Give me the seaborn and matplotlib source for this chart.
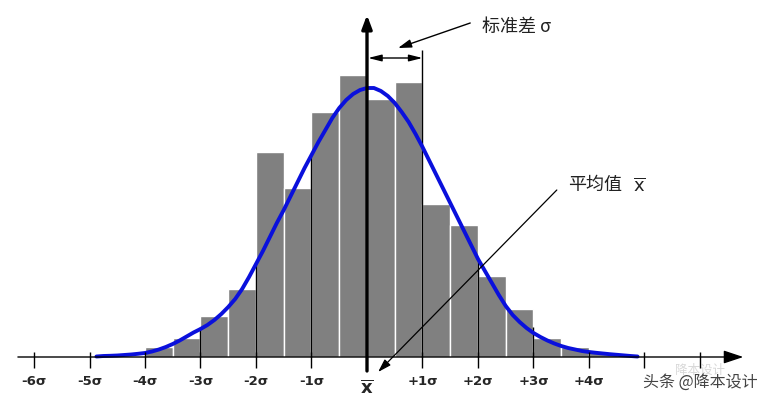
import numpy as np
import pandas as pd
import seaborn as sns
import matplotlib.pyplot as plt

# histogram bins (in sigma units) and bar heights
bin_edges = [-4.0, -3.5, -3.0, -2.5, -2.0, -1.5, -1.0, -0.5, 0.0, 0.5,
             1.0, 1.5, 2.0, 2.5, 3.0, 3.5, 4.0, 4.5]
bar_heights = [10, 19, 41, 68, 205, 169, 245, 282, 258, 275,
               153, 132, 81, 48, 19, 10, 5]

# fitted curve
curve_x = [-4.875, -4.75, -4.625, -4.5, -4.375, -4.25, -4.125, -4.0,
           -3.875, -3.75, -3.625, -3.5, -3.375, -3.25, -3.125, -3.0,
           -2.875, -2.75, -2.625, -2.5, -2.375, -2.25, -2.125, -2.0,
           -1.875, -1.75, -1.625, -1.5, -1.375, -1.25, -1.125, -1.0,
           -0.875, -0.75, -0.625, -0.5, -0.375, -0.25, -0.125, 0.0,
           0.125, 0.25, 0.375, 0.5, 0.625, 0.75, 0.875, 1.0,
           1.125, 1.25, 1.375, 1.5, 1.625, 1.75, 1.875, 2.0,
           2.125, 2.25, 2.375, 2.5, 2.625, 2.75, 2.875, 3.0,
           3.125, 3.25, 3.375, 3.5, 3.625, 3.75, 3.875, 4.0,
           4.125, 4.25, 4.375, 4.5, 4.625, 4.75, 4.875]
curve_y = [0.5, 1, 1.2, 1.5, 2, 2.5, 3.2, 4,
           5.5, 7.5, 10, 13, 16.5, 20.5, 24.5, 28,
           32, 37, 43, 50, 58, 68, 80, 93,
           106, 120, 134, 147, 161, 175, 189, 202,
           215, 227, 239, 249, 257, 263, 267, 269,
           269, 266, 261, 254, 245, 235, 223, 210,
           196, 182, 168, 154, 140, 126, 112, 98,
           86, 74, 62, 51, 42, 35, 29, 24,
           20, 16.5, 13.5, 11, 9, 7.5, 6, 5,
           4.2, 3.5, 2.8, 2.2, 1.6, 1, 0.5]

# sigma ticks and labels
tick_pos = [-6, -5, -4, -3, -2, -1, 1, 2, 3, 4, 5, 6]
tick_labels = ['-6σ', '-5σ', '-4σ', '-3σ', '-2σ', '-1σ',
               '+1σ', '+2σ', '+3σ', '+4σ']

# reference lines at each sigma
ref_x = [-3, -2, -1, 1, 2, 3]
ref_top = [30, 95, 202, 307, 97, 30]

sns.set_style("white")
plt.rcParams['font.family'] = ['Noto Sans CJK SC', 'DejaVu Sans']

fig = plt.figure(figsize=(7.58, 4.11), dpi=100)
ax = fig.add_axes([0, 0, 1, 1])

centers = [(a + b) / 2 for a, b in zip(bin_edges[:-1], bin_edges[1:])]
bars = pd.DataFrame({'x': centers, 'h': bar_heights})
sns.histplot(data=bars, x='x', weights='h', bins=bin_edges, ax=ax,
             color='#808080', edgecolor='white', linewidth=1, alpha=1)

# sigma reference lines
ax.vlines(ref_x, 0, ref_top, color='black', linewidth=1, zorder=3)

# fitted curve
sns.lineplot(x=curve_x, y=curve_y, ax=ax, color='#0a10dc', linewidth=2.8,
             zorder=4, sort=False, solid_joinstyle='round',
             solid_capstyle='round')

# horizontal axis with arrow
ax.annotate('', xy=(6.78, 0), xytext=(-6.29, 0),
            arrowprops=dict(arrowstyle='-|>,head_length=1.2,head_width=0.4',
                            color='black', lw=1, shrinkA=0, shrinkB=0), zorder=5)
ax.vlines(tick_pos, -11, 5, color='black', linewidth=1, zorder=5)
for p, lab in zip(tick_pos, tick_labels):
    ax.text(p, -24, lab, ha='center', va='center', fontsize=9.5,
            fontweight='bold', family='DejaVu Sans')

# mean arrow
ax.annotate('', xy=(0, 342), xytext=(0, -14),
            arrowprops=dict(arrowstyle='-|>,head_length=0.8,head_width=0.3',
                            color='black', lw=2.4, shrinkA=0, shrinkB=0), zorder=6)
ax.text(0, -31, r'$\overline{\mathbf{x}}$', ha='center', va='center',
        fontsize=13, family='DejaVu Sans')

# standard deviation marker
ax.annotate('', xy=(0.02, 299), xytext=(1.0, 299),
            arrowprops=dict(arrowstyle='<|-|>,head_length=0.8,head_width=0.2',
                            color='black', lw=1, shrinkA=0, shrinkB=0), zorder=6)
ax.annotate('', xy=(0.56, 309), xytext=(1.86, 334),
            arrowprops=dict(arrowstyle='-|>,head_length=0.8,head_width=0.25',
                            color='black', lw=1, shrinkA=0, shrinkB=0), zorder=6)
ax.text(2.07, 330, '标准差 σ', ha='left', va='center', fontsize=13,
        color='#222222')

# mean label
ax.annotate('', xy=(0.2, -15), xytext=(3.42, 167),
            arrowprops=dict(arrowstyle='-|>,head_length=0.8,head_width=0.25',
                            color='black', lw=0.9, shrinkA=0, shrinkB=0), zorder=6)
ax.text(3.62, 172, '平均值', ha='left', va='center', fontsize=13,
        color='#222222')
ax.text(4.8, 171, r'$\overline{\mathrm{x}}$', ha='left', va='center',
        fontsize=13, family='DejaVu Sans', color='#222222')

# watermark
ax.text(6.0, -13, '降本设计', ha='center', va='center', fontsize=9,
        color='#d8d8d8', zorder=1)
ax.text(7.03, -25, '头条 @降本设计', ha='right', va='center', fontsize=11.5,
        color='#444444', zorder=7)

ax.set_xlim(-367 / 55.5, 391 / 55.5)
ax.set_ylim(-54, 357)
ax.axis('off')

fig.savefig('out.png', dpi=100)
